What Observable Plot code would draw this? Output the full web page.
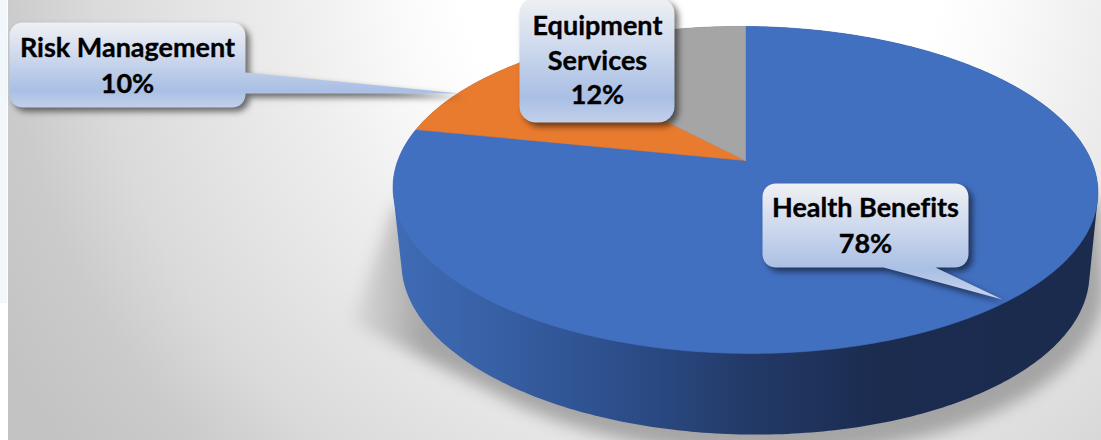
<!DOCTYPE html>
<html>
<head>
<meta charset="utf-8">
<script src="https://cdn.jsdelivr.net/npm/d3@7"></script>
<script src="https://cdn.jsdelivr.net/npm/@observablehq/plot@0.6"></script>
<style>
  html, body { margin: 0; padding: 0; background: #fff; }
  svg { display: block; }
  svg text { font-variant-ligatures: none; }
</style>
</head>
<body>
<div id="chart"></div>
<script>
// Budget shares, clockwise from twelve o'clock
const categories = ["Health Benefits", "Risk Management", "Equipment Services"];
const shares = [78, 10, 12];
const sliceColors = ["#4270c1", "#e97b2e", "#a5a5a5"];
const labelLines = [["Health Benefits"], ["Risk Management"], ["Equipment", "Services"]];

const W = 1101, H = 440;

// Perspective view of the pie's top face
const apex = [745, 160];
const persp = {a: 346.7, b: 158.2, k: -0.18, shear: 0.007};
const topFace = (t) => {
  const X = Math.sin(t), Y = -Math.cos(t), d = 1 + persp.k * Y;
  const x = apex[0] + persp.a * X / d;
  return [x, apex[1] + persp.b * Y / d + persp.shear * (x - apex[0])];
};
// Lower rim of the cylinder
const lowerRim = (t) => {
  const x = 745 + 344 * Math.sin(t);
  return [x, 268 - 166 * Math.cos(t) + 0.015 * (x - 745)];
};
const turns = d3.range(0, 361, 1).map((d) => d * Math.PI / 180);

// Wedges built from the shares
let running = 0;
const total = d3.sum(shares);
const slices = shares.map((s, i) => {
  const from = running / total * 2 * Math.PI;
  running += s;
  const to = running / total * 2 * Math.PI;
  const n = Math.max(2, Math.ceil(s * 4));
  const pts = d3.range(n + 1).map((j) => topFace(from + (to - from) * j / n));
  return {i, points: [apex, ...pts, apex]};
});

const topOutline = turns.map(topFace);
const rimOutline = turns.map(lowerRim);
const solid = d3.polygonHull([...topOutline, ...rimOutline]);
solid.push(solid[0]);

// Cast shadow: slightly enlarged rim plus the wedge falling to the left
const shadowEllipse = turns.map((t) => {
  const x = 748 + 356 * Math.sin(t);
  return [x, 274 - 180 * Math.cos(t) + 0.03 * (x - 745)];
});
const wedge = d3.polygonHull([...shadowEllipse.filter((p) => p[1] > 250), [394, 205], [352, 322], [1100, 200]]);
wedge.push(wedge[0]);

// Rounded box outline, with an optional pointer along its right or bottom edge
function callout(x0, y0, x1, y1, r, tail) {
  const arc = (cx, cy, a0) => d3.range(0, 7).map((j) => {
    const a = a0 + j / 6 * Math.PI / 2;
    return [cx + r * Math.cos(a), cy + r * Math.sin(a)];
  });
  const pts = [...arc(x0 + r, y0 + r, Math.PI), ...arc(x1 - r, y0 + r, -Math.PI / 2)];
  if (tail && tail.side === "right") pts.push(...tail.points);
  pts.push(...arc(x1 - r, y1 - r, 0));
  if (tail && tail.side === "bottom") pts.push(...tail.points);
  pts.push(...arc(x0 + r, y1 - r, Math.PI / 2));
  pts.push(pts[0]);
  return pts;
}

const boxes = [
  {id: "calloutHealth", pts: callout(762, 183, 968, 267, 13, {side: "bottom", points: [[935, 267], [1002, 299], [883, 267]]}), y1: 183, y2: 291, tx: 865, ty: 226, lh: 1.33},
  {id: "calloutRisk", pts: callout(9, 22, 245, 107, 13, {side: "right", points: [[245, 72], [460, 93], [245, 93]]}), y1: 22, y2: 107, tx: 127, ty: 66, lh: 1.33},
  {id: "calloutEquip", pts: callout(519, -3, 674, 122, 16), y1: -3, y2: 122, tx: 597, ty: 61, lh: 1.28}
];

// Gradients referenced by the marks below
function gradients() {
  const defs = d3.create("svg:defs");
  const bg = defs.append("radialGradient").attr("id", "backdrop").attr("gradientUnits", "userSpaceOnUse")
    .attr("cx", 700).attr("cy", -40).attr("r", 800);
  [[0, "#ffffff"], [0.3, "#ffffff"], [0.38, "#fafafa"], [0.51, "#eeeeee"], [0.64, "#e4e4e4"], [0.76, "#dadada"], [0.82, "#d2d2d2"], [0.87, "#cbcbcb"], [1, "#c3c3c3"]]
    .forEach(([o, c]) => bg.append("stop").attr("offset", o).attr("stop-color", c));
  const side = defs.append("linearGradient").attr("id", "wall").attr("gradientUnits", "userSpaceOnUse")
    .attr("x1", 393).attr("x2", 1098).attr("y1", 0).attr("y2", 0);
  [[0, "#3f6cb6"], [0.15, "#375fa4"], [0.35, "#2b4b86"], [0.5, "#233a68"], [0.68, "#1b2c50"], [1, "#1b2b4e"]]
    .forEach(([o, c]) => side.append("stop").attr("offset", o).attr("stop-color", c));
  const cast = defs.append("linearGradient").attr("id", "cast").attr("gradientUnits", "userSpaceOnUse")
    .attr("x1", 350).attr("x2", 425).attr("y1", 0).attr("y2", 0);
  [[0, 0.12], [0.5, 0.42], [1, 0.75]]
    .forEach(([o, a]) => cast.append("stop").attr("offset", o).attr("stop-color", "#8f8f8f").attr("stop-opacity", a));
  boxes.forEach((b) => {
    const g = defs.append("linearGradient").attr("id", b.id).attr("gradientUnits", "userSpaceOnUse")
      .attr("x1", 0).attr("x2", 0).attr("y1", b.y1).attr("y2", b.y2);
    [[0, "#eff0f3"], [0.35, "#d2dcee"], [0.8, "#a9bfe4"], [1, "#c2d0ea"]]
      .forEach(([o, c]) => g.append("stop").attr("offset", o).attr("stop-color", c));
  });
  return defs.node();
}

const px = {x: (d) => d[0], y: (d) => d[1]};

const chart = Plot.plot({
  width: W,
  height: H,
  margin: 0,
  x: {domain: [0, W], axis: null},
  y: {domain: [H, 0], axis: null},
  style: {background: "transparent"},
  marks: [
    gradients,
    // Light page strip and chart backdrop
    Plot.rect([0], {x1: 0, x2: 7, y1: 0, y2: 303, fill: "#f2f7fb"}),
    Plot.rect([0], {x1: 8, x2: W, y1: 0, y2: H, fill: "url(#backdrop)"}),
    // Soft ground shadow
    Plot.line(wedge, {...px, fill: "url(#cast)", stroke: "none", imageFilter: "blur(8px)"}),
    // Cylinder wall and top face
    Plot.line(solid, {...px, fill: "url(#wall)", stroke: "none"}),
    ...slices.map((s) => Plot.line(s.points, {...px, fill: sliceColors[s.i], stroke: sliceColors[s.i], strokeWidth: 0.6})),
    // Callouts with their labels
    ...boxes.map((b) => Plot.line(b.pts, {...px, fill: `url(#${b.id})`, stroke: "none", imageFilter: "drop-shadow(4px 4px 3px rgba(0,0,0,0.55))"})),
    ...boxes.map((b, i) => Plot.text([[...labelLines[i], shares[i] + "%"].join("\n")], {
      x: b.tx, y: b.ty - 3, text: (d) => d,
      fontFamily: "Lato", fontWeight: 700, fontSize: 27, lineHeight: b.lh, fill: "#000",
      stroke: "#000", strokeWidth: 0.35
    }))
  ]
});
document.getElementById("chart").append(chart);
</script>
</body>
</html>
